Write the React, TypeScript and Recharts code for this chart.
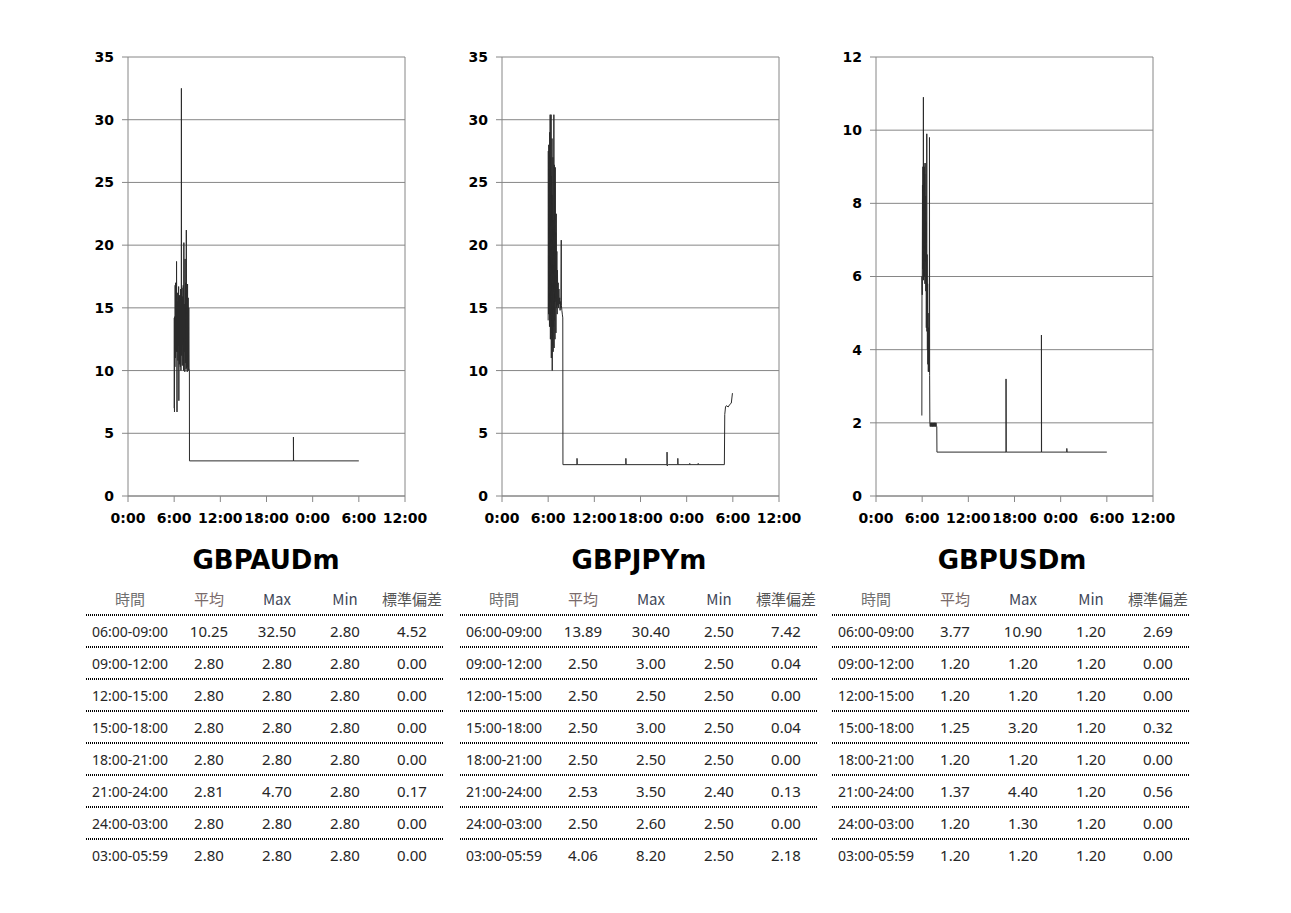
import { LineChart, Line, XAxis, YAxis, CartesianGrid, ReferenceLine } from "recharts";

// 時刻 (時間, 0 = 0:00) と値
const xTicks = [0, 6, 12, 18, 24, 30, 36];
const xTickLabels = ["0:00", "6:00", "12:00", "18:00", "0:00", "6:00", "12:00"];

const audTicks = [0, 5, 10, 15, 20, 25, 30, 35];
const jpyTicks = [0, 5, 10, 15, 20, 25, 30, 35];
const usdTicks = [0, 2, 4, 6, 8, 10, 12];

const audPoints: [number, number][] = [
  [6.0, 7.0], [6.02, 14.2], [6.04, 6.7], [6.06, 12.5], [6.08, 14.3], [6.1, 10.3],
  [6.13, 16.8], [6.16, 11.0], [6.19, 17.0], [6.22, 12.0], [6.25, 15.5], [6.28, 11.5],
  [6.31, 18.7], [6.34, 13.0], [6.37, 6.7], [6.4, 15.5], [6.43, 11.5], [6.46, 16.2],
  [6.49, 10.8], [6.52, 15.0], [6.55, 12.0], [6.58, 16.7], [6.61, 7.6], [6.64, 15.8],
  [6.67, 10.5], [6.7, 16.0], [6.73, 11.0], [6.76, 15.2], [6.8, 10.3], [6.84, 16.5],
  [6.88, 10.0], [6.92, 15.7], [6.94, 32.5], [6.97, 11.2], [7.02, 16.6], [7.06, 10.4],
  [7.1, 15.9], [7.14, 12.1], [7.18, 16.8], [7.22, 10.0], [7.26, 20.2], [7.3, 11.5],
  [7.34, 15.3], [7.38, 9.9], [7.42, 18.9], [7.46, 10.6], [7.5, 17.0], [7.54, 10.1],
  [7.58, 21.2], [7.62, 10.2], [7.66, 16.4], [7.7, 9.9], [7.74, 16.9], [7.78, 10.3],
  [7.82, 15.8], [7.86, 10.0], [7.9, 15.0], [7.94, 10.2], [7.98, 10.0],
  [7.99, 2.8], [21.5, 2.8], [21.5, 4.7], [21.52, 2.8], [30.0, 2.8],
];

const jpyPoints: [number, number][] = [
  [6.0, 14.0], [6.02, 27.5], [6.05, 14.5], [6.08, 28.0], [6.11, 15.0], [6.14, 26.0],
  [6.17, 13.5], [6.2, 29.0], [6.23, 16.0], [6.26, 30.4], [6.29, 12.5], [6.32, 27.0],
  [6.35, 14.5], [6.38, 30.4], [6.41, 11.0], [6.44, 25.5], [6.47, 13.0], [6.5, 28.5],
  [6.53, 10.0], [6.56, 24.0], [6.59, 12.0], [6.62, 27.0], [6.65, 11.5], [6.68, 22.0],
  [6.71, 13.5], [6.74, 30.4], [6.77, 11.8], [6.8, 26.4], [6.83, 14.0], [6.86, 25.0],
  [6.89, 12.5], [6.92, 26.2], [6.95, 15.5], [6.98, 21.0], [7.01, 13.0], [7.05, 22.5],
  [7.09, 15.0], [7.13, 19.5], [7.17, 14.5], [7.21, 18.0], [7.25, 15.2], [7.3, 17.0],
  [7.35, 15.0], [7.4, 16.5], [7.45, 15.3], [7.5, 15.8], [7.55, 14.8], [7.6, 15.5],
  [7.65, 15.0], [7.7, 20.4], [7.72, 15.2], [7.78, 14.8], [7.84, 14.5], [7.9, 14.2],
  [7.92, 2.5], [9.75, 2.5], [9.75, 3.0], [9.77, 2.5], [16.1, 2.5], [16.1, 3.0],
  [16.12, 2.5], [21.45, 2.5], [21.45, 3.5], [21.47, 2.4], [21.6, 2.5], [22.85, 2.5],
  [22.85, 3.0], [22.87, 2.5], [24.4, 2.5], [24.4, 2.6], [24.42, 2.5], [25.5, 2.5],
  [25.5, 2.6], [25.52, 2.5], [28.9, 2.5], [28.95, 6.5], [29.05, 7.1], [29.15, 7.2],
  [29.4, 7.1], [29.6, 7.3], [29.8, 7.4], [29.95, 8.2],
];

const usdPoints: [number, number][] = [
  [5.96, 2.2], [5.98, 6.0], [6.01, 5.5], [6.04, 8.5], [6.07, 6.2], [6.1, 9.0],
  [6.13, 6.0], [6.16, 10.9], [6.18, 5.9], [6.21, 9.1], [6.24, 6.5], [6.27, 9.0],
  [6.3, 6.0], [6.33, 8.8], [6.36, 5.8], [6.39, 9.1], [6.42, 6.4], [6.45, 8.2],
  [6.48, 5.6], [6.51, 7.5], [6.54, 4.6], [6.57, 6.9], [6.6, 9.9], [6.62, 4.5],
  [6.65, 6.6], [6.68, 4.0], [6.71, 5.8], [6.74, 3.6], [6.77, 5.0], [6.8, 3.4],
  [6.83, 4.6], [6.86, 3.4], [6.9, 4.0], [6.93, 3.4], [6.95, 9.8], [6.97, 3.3],
  [7.0, 2.0], [7.05, 1.9], [7.1, 2.0], [7.15, 1.9], [7.2, 2.0], [7.25, 1.9],
  [7.3, 2.0], [7.35, 1.9], [7.4, 2.0], [7.45, 1.9], [7.5, 2.0], [7.55, 1.9],
  [7.6, 2.0], [7.65, 1.9], [7.7, 2.0], [7.75, 1.9], [7.8, 2.0], [7.85, 1.9],
  [7.9, 1.9], [7.92, 1.2], [16.9, 1.2],
  [16.9, 3.2], [16.92, 1.2], [21.5, 1.2], [21.5, 4.4], [21.52, 1.2], [24.8, 1.2],
  [24.8, 1.3], [24.82, 1.2], [30.0, 1.2],
];

// 統計テーブル
const headers = ["時間", "平均", "Max", "Min", "標準偏差"];
const periods = [
  "06:00-09:00", "09:00-12:00", "12:00-15:00", "15:00-18:00",
  "18:00-21:00", "21:00-24:00", "24:00-03:00", "03:00-05:59",
];
const audStats = [
  ["10.25", "32.50", "2.80", "4.52"],
  ["2.80", "2.80", "2.80", "0.00"],
  ["2.80", "2.80", "2.80", "0.00"],
  ["2.80", "2.80", "2.80", "0.00"],
  ["2.80", "2.80", "2.80", "0.00"],
  ["2.81", "4.70", "2.80", "0.17"],
  ["2.80", "2.80", "2.80", "0.00"],
  ["2.80", "2.80", "2.80", "0.00"],
];
const jpyStats = [
  ["13.89", "30.40", "2.50", "7.42"],
  ["2.50", "3.00", "2.50", "0.04"],
  ["2.50", "2.50", "2.50", "0.00"],
  ["2.50", "3.00", "2.50", "0.04"],
  ["2.50", "2.50", "2.50", "0.00"],
  ["2.53", "3.50", "2.40", "0.13"],
  ["2.50", "2.60", "2.50", "0.00"],
  ["4.06", "8.20", "2.50", "2.18"],
];
const usdStats = [
  ["3.77", "10.90", "1.20", "2.69"],
  ["1.20", "1.20", "1.20", "0.00"],
  ["1.20", "1.20", "1.20", "0.00"],
  ["1.25", "3.20", "1.20", "0.32"],
  ["1.20", "1.20", "1.20", "0.00"],
  ["1.37", "4.40", "1.20", "0.56"],
  ["1.20", "1.30", "1.20", "0.00"],
  ["1.20", "1.20", "1.20", "0.00"],
];

const gridColor = "#868686";
const colWidths = [88, 70, 66, 70, 64];
const headerColors = ["#707070", "#7a6a6a", "#3e4656", "#3e4656", "#555555"];

function PriceChart({
  points,
  yTicks,
  left,
}: {
  points: [number, number][];
  yTicks: number[];
  left: number;
}) {
  const data = points.map(([t, v]) => ({ t, v }));
  const yMax = yTicks[yTicks.length - 1];
  return (
    <div style={{ position: "absolute", left, top: 40 }}>
      <LineChart
        width={365}
        height={490}
        data={data}
        margin={{ top: 17, right: 40, bottom: 0, left: 0 }}
      >
        <CartesianGrid vertical={false} stroke={gridColor} />
        <XAxis
          dataKey="t"
          type="number"
          domain={[0, 36]}
          ticks={xTicks}
          interval={0}
          height={34}
          tickFormatter={(_v: number, i: number) => xTickLabels[i]}
          stroke={gridColor}
          tickSize={6}
          tickMargin={11}
          tick={{ fill: "#000", fontSize: 14, fontWeight: "bold", fontFamily: "DejaVu Sans" }}
        />
        <YAxis
          type="number"
          domain={[0, yMax]}
          ticks={yTicks}
          interval={0}
          width={48}
          stroke={gridColor}
          tickSize={6}
          tickMargin={8}
          tick={{ fill: "#000", fontSize: 14, fontWeight: "bold", fontFamily: "DejaVu Sans" }}
        />
        <ReferenceLine x={36} stroke={gridColor} />
        <Line
          type="linear"
          dataKey="v"
          stroke="#2b2b2b"
          strokeWidth={1}
          dot={false}
          isAnimationActive={false}
        />
      </LineChart>
    </div>
  );
}

function StatsTable({ stats, left }: { stats: string[][]; left: number }) {
  const dots = {
    height: 2,
    backgroundImage: "repeating-linear-gradient(to right, #000 0 1px, transparent 1px 2px)",
  };
  return (
    <div style={{ position: "absolute", left, top: 582, width: 358 }}>
      <div style={{ display: "flex", height: 32, alignItems: "center" }}>
        {headers.map((h, i) => (
          <div
            key={h}
            style={{
              width: colWidths[i],
              textAlign: "center",
              fontSize: 15,
              fontFamily: "'Noto Sans CJK JP', 'Noto Sans'",
              color: headerColors[i],
            }}
          >
            {h}
          </div>
        ))}
      </div>
      {periods.map((p, r) => (
        <div key={p}>
          <div style={dots} />
          <div style={{ display: "flex", height: 30, alignItems: "center", color: "#262626" }}>
            <div style={{ width: colWidths[0], textAlign: "center", fontSize: 14, fontFamily: "'Noto Sans'" }}>
              {p}
            </div>
            {stats[r].map((s, i) => (
              <div
                key={i}
                style={{ width: colWidths[i + 1], textAlign: "center", fontSize: 15, fontFamily: "'Noto Sans'" }}
              >
                {s}
              </div>
            ))}
          </div>
        </div>
      ))}
    </div>
  );
}

function Title({ text, center }: { text: string; center: number }) {
  return (
    <div
      style={{
        position: "absolute",
        left: center - 150,
        top: 544,
        width: 300,
        textAlign: "center",
        fontSize: 26,
        lineHeight: "32px",
        fontWeight: "bold",
        fontFamily: "'DejaVu Sans'",
        color: "#000",
      }}
    >
      {text}
    </div>
  );
}

export default function App() {
  return (
    <div style={{ position: "absolute", left: 0, top: 0, width: 1291, height: 913, background: "#fff" }}>
      <PriceChart points={audPoints} yTicks={audTicks} left={80} />
      <PriceChart points={jpyPoints} yTicks={jpyTicks} left={454} />
      <PriceChart points={usdPoints} yTicks={usdTicks} left={828} />
      <Title text="GBPAUDm" center={266} />
      <Title text="GBPJPYm" center={639} />
      <Title text="GBPUSDm" center={1012} />
      <StatsTable stats={audStats} left={86} />
      <StatsTable stats={jpyStats} left={460} />
      <StatsTable stats={usdStats} left={832} />
    </div>
  );
}
